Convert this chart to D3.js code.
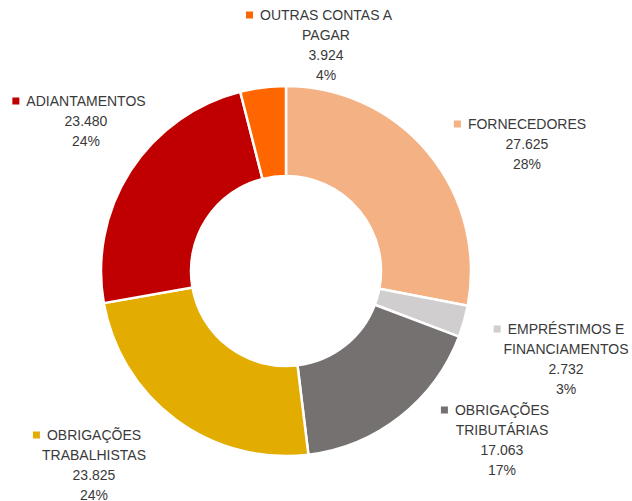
<!DOCTYPE html>
<meta charset="utf-8">
<head>
  <style>
  body{ margin:0; background:#fff; }
  svg{ font-family: "Liberation Sans", Arial, sans-serif; }
  .lbl text{ font-size: 14px; fill: #3a3a3a; }
  </style>
</head>
<body>
<div id="chart"></div>
<script src="https://d3js.org/d3.v7.min.js"></script>
<script>

var categories = ["FORNECEDORES", "EMPRÉSTIMOS E FINANCIAMENTOS", "OBRIGAÇÕES TRIBUTÁRIAS",
                  "OBRIGAÇÕES TRABALHISTAS", "ADIANTAMENTOS", "OUTRAS CONTAS A PAGAR"];
var values = [27625, 2732, 17063, 23825, 23480, 3924];
var colors = ["#F4B183", "#D0CECE", "#767171", "#E2AC00", "#C00000", "#FF6600"];

// how each label wraps, and where its block sits (center x, first line y)
var labelLines = [
  ["FORNECEDORES"],
  ["EMPRÉSTIMOS E", "FINANCIAMENTOS"],
  ["OBRIGAÇÕES", "TRIBUTÁRIAS"],
  ["OBRIGAÇÕES", "TRABALHISTAS"],
  ["ADIANTAMENTOS"],
  ["OUTRAS CONTAS A", "PAGAR"]
];
var labelPos = [[527, 124], [566, 329], [502, 410], [94, 435], [86, 101], [326, 15]];

var W = 632, H = 501;
var cx = 286, cy = 271, rOuter = 185, rInner = 95;

var svg = d3.select("#chart").append("svg")
  .attr("width", W)
  .attr("height", H);

var total = d3.sum(values);
var fmt = d3.formatLocale({decimal: ",", thousands: ".", grouping: [3], currency: ["R$", ""]}).format(",d");

var pie = d3.pie().sort(null).value(function(d){ return d; });
var arc = d3.arc().innerRadius(rInner).outerRadius(rOuter);

var g = svg.append("g").attr("transform", "translate(" + cx + "," + cy + ")");

g.selectAll("path")
  .data(pie(values))
  .enter().append("path")
  .attr("d", arc)
  .attr("fill", function(d, i){ return colors[i]; })
  .attr("stroke", "#fff")
  .attr("stroke-width", 2.5)
  .attr("stroke-linejoin", "miter");

var lh = 20;
categories.forEach(function(c, i){
  var lines = labelLines[i].concat([fmt(values[i]), Math.round(values[i] / total * 100) + "%"]);
  var lg = svg.append("g").attr("class", "lbl");
  var t = lg.selectAll("text").data(lines).enter().append("text")
    .attr("x", labelPos[i][0])
    .attr("y", function(d, j){ return labelPos[i][1] + j * lh; })
    .attr("dy", "0.35em")
    .attr("text-anchor", "middle")
    .text(function(d){ return d; });
  var w = t.node().getComputedTextLength();
  lg.append("rect")
    .attr("x", labelPos[i][0] - w / 2 - 14)
    .attr("y", labelPos[i][1] - 3.5)
    .attr("width", 7)
    .attr("height", 7)
    .attr("fill", colors[i]);
});

</script>
</body>
